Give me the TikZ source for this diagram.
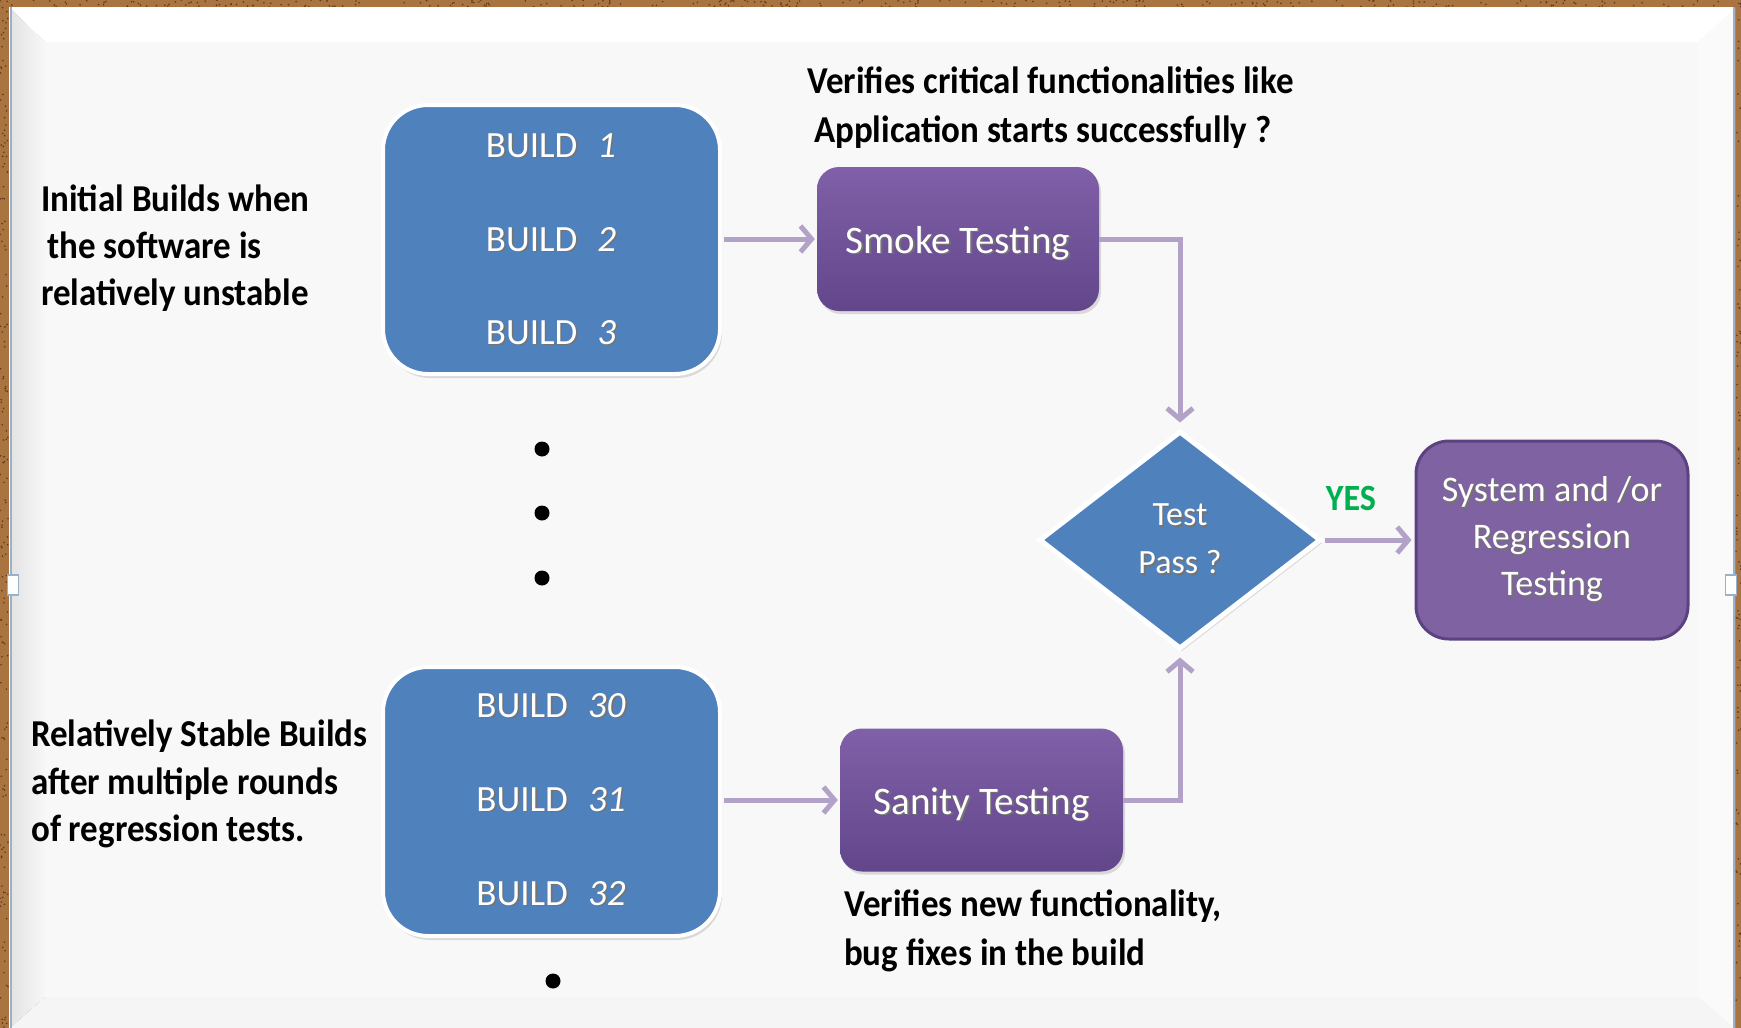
\documentclass[tikz,border=0pt]{standalone}
\usepackage{fontspec}
\setmainfont{Carlito}
\newfontfamily\annfont[FakeStretch=0.92]{Carlito}
\usetikzlibrary{arrows.meta,shapes.geometric,shadows}
\definecolor{cork}{HTML}{A9743F}
\definecolor{corkdark}{HTML}{5E3A1C}
\definecolor{panelC}{HTML}{F8F8F8}
\definecolor{blueF}{HTML}{4F81BD}
\definecolor{purpTop}{HTML}{8060A8}
\definecolor{purpBot}{HTML}{62468A}
\definecolor{purpF}{HTML}{7F62A1}
\definecolor{purpD}{HTML}{5A4380}
\definecolor{connC}{HTML}{B3A2C7}
\definecolor{yesC}{HTML}{00B050}
\definecolor{edgeC}{HTML}{9CB0CA}
\newcommand{\shd}[1]{\leavevmode\rlap{\kern1.6pt\raisebox{-1.6pt}{\textcolor{black!55}{#1}}}#1}
\begin{document}
\begin{tikzpicture}[x=1pt,y=-1pt,
  buildbox/.style={rectangle, rounded corners=45pt, fill=blueF, draw=white, line width=4pt,
    minimum width=337pt, minimum height=269pt,
    drop shadow={shadow xshift=2pt, shadow yshift=-4pt, opacity=0.25}},
  buildlbl/.style={anchor=base, inner sep=0pt, text=white, font=\fontsize{37}{44}\selectfont},
  testbox/.style={rectangle, rounded corners=22pt, top color=purpTop, bottom color=purpBot,
    draw=none, text=white, font=\fontsize{39}{46}\selectfont, text depth=2pt, text height=30pt,
    drop shadow={shadow xshift=2pt, shadow yshift=-3pt, opacity=0.25}},
  sysbox/.style={rectangle, rounded corners=33pt, fill=purpF, draw=purpD, line width=3pt,
    text=white, align=center, font=\fontsize{36}{47}\selectfont,
    minimum width=272pt, minimum height=198pt},
  diam/.style={diamond, aspect=1.3, fill=blueF, draw=white, line width=5pt, inner sep=0pt,
    minimum width=282pt, minimum height=218pt, text=white, align=center,
    font=\fontsize{34}{48}\selectfont,
    drop shadow={shadow xshift=2pt, shadow yshift=-3pt, opacity=0.25}},
  conn/.style={draw=connC, line width=5pt, -{Straight Barb[length=11pt,width=26pt]}},
  ann/.style={anchor=base west, inner sep=0pt, text=black, font=\annfont\bfseries\fontsize{38}{47}\selectfont},
  dot/.style={circle, fill=black, inner sep=0pt, minimum size=15pt},
  handle/.style={rectangle, fill=white, draw=edgeC, line width=1.2pt, inner sep=0pt,
    minimum width=11pt, minimum height=20pt}
]
\useasboundingbox (0,0) rectangle (1741,1028);
% frame
\fill[cork] (0,0) rectangle (1741,1028);
\pgfmathsetseed{7}
\foreach \i in {1,...,260}{
  \pgfmathsetmacro\xx{rnd*1741}\pgfmathsetmacro\yy{rnd*7}
  \fill[corkdark] (\xx,\yy) circle (0.9pt);}
\foreach \i in {1,...,160}{
  \pgfmathsetmacro\xx{rnd*8}\pgfmathsetmacro\yy{rnd*1028}
  \fill[corkdark] (\xx,\yy) circle (0.9pt);}
\foreach \i in {1,...,90}{
  \pgfmathsetmacro\xx{1736+rnd*5}\pgfmathsetmacro\yy{rnd*1028}
  \fill[corkdark] (\xx,\yy) circle (0.9pt);}
\fill[white] (9,7) rectangle (1735,1028);
\fill[left color=black!11, right color=black!3] (10,8) -- (45,42) -- (45,997) -- (10,1028) -- cycle;
\fill[white] (10,8) -- (1735,8) -- (1698,42) -- (45,42) -- cycle;
\fill[black!2] (1735,8) -- (1735,1028) -- (1698,997) -- (1698,42) -- cycle;
\fill[black!4] (10,1028) -- (45,997) -- (1698,997) -- (1735,1028) -- cycle;
\fill[panelC] (45,42) rectangle (1698,997);
\draw[edgeC, line width=2.5pt] (11,7) -- (11,1028);
\draw[edgeC, line width=2pt] (1734,7) -- (1734,1028);
\node[handle] (hl) at (13,585) {};
\node[handle] (hr) at (1731,585) {};

% build boxes
\node[buildbox] (b1) at (551.5,239.5) {};
\node[buildbox] (b2) at (551.5,801.5) {};
\node[buildlbl] (l1) at (551,157) {\shd{BUILD}\hspace{20pt}\shd{\textit{1}}};
\node[buildlbl] (l2) at (551,251) {\shd{BUILD}\hspace{20pt}\shd{\textit{2}}};
\node[buildlbl] (l3) at (551,344) {\shd{BUILD}\hspace{20pt}\shd{\textit{3}}};
\node[buildlbl] (l30) at (551,717) {\shd{BUILD}\hspace{20pt}\shd{\textit{30}}};
\node[buildlbl] (l31) at (551,811) {\shd{BUILD}\hspace{20pt}\shd{\textit{31}}};
\node[buildlbl] (l32) at (551,905) {\shd{BUILD}\hspace{20pt}\shd{\textit{32}}};

% dots
\node[dot] (d1) at (542,449) {};
\node[dot] (d2) at (542,513) {};
\node[dot] (d3) at (542,578) {};
\node[dot] (d4) at (553,981) {};

% test boxes
\node[testbox, minimum width=282pt, minimum height=144pt] (smoke) at (958,239) {\shd{Smoke Testing}};
\node[testbox, minimum width=283pt, minimum height=143pt] (sanity) at (981.5,800) {\shd{Sanity Testing}};
\node[diam] (dia) at (1180,540) {\shd{Test}\\\shd{Pass ?}};
\node[sysbox] (sys) at (1552,540) {\shd{System and /or}\\\shd{Regression}\\\shd{Testing}};

% connectors
\draw[conn, shorten <=2pt, shorten >=2pt] (b1.east |- smoke.west) -- (smoke.west);
\draw[conn, shorten <=2pt, shorten >=2pt] (b2.east |- sanity.west) -- (sanity.west);
\draw[conn, shorten >=6pt] (smoke.east) -| (dia.north);
\draw[conn, shorten >=6pt] (sanity.east) -| (dia.south);
\draw[conn, shorten <=1pt, shorten >=3pt] (dia.east) -- (sys.west);
\node[anchor=base, inner sep=0pt, text=yesC, font=\annfont\bfseries\fontsize{37}{42}\selectfont] (yes) at (1351,510) {YES};

% annotations
\node[ann] (v1) at (807,93) {Verifies critical functionalities like};
\node[ann] (v2) at (814,142) {Application starts successfully ?};
\node[ann] (i1) at (41,211) {Initial Builds when};
\node[ann] (i2) at (47,258) {the software is};
\node[ann] (i3) at (41,305) {relatively unstable};
\node[ann] (r1) at (31,746) {Relatively Stable Builds};
\node[ann] (r2) at (31,794) {after multiple rounds};
\node[ann] (r3) at (31,841) {of regression tests.};
\node[ann] (n1) at (844,916) {Verifies new functionality,};
\node[ann] (n2) at (844,965) {bug fixes in the build};
\end{tikzpicture}
\end{document}
